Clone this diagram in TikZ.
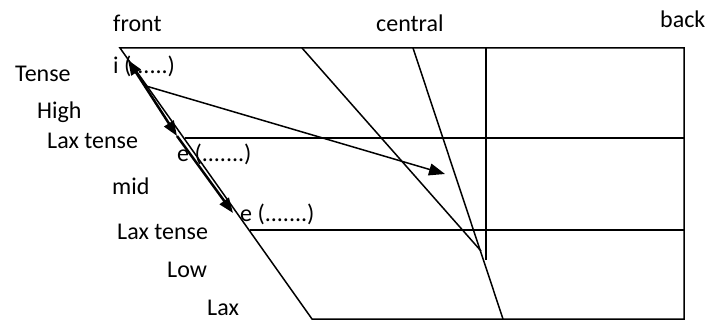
\documentclass[tikz,border=0pt]{standalone}
\usepackage{fontspec}
\setmainfont{Carlito}
\usetikzlibrary{arrows.meta}
\begin{document}
\begin{tikzpicture}[x=1pt,y=-1pt,
  lbl/.style={anchor=base west,inner sep=0pt,font=\fontsize{24}{28}\selectfont},
  thin/.style={line width=1.5pt},
  thickarr/.style={line width=2.5pt},
  tipb/.tip={Triangle[length=15pt,width=11pt]}]
\useasboundingbox (0,0) rectangle (709,320);
% frame
\coordinate (tl) at (120,48);
\coordinate (tr) at (684,48);
\coordinate (br) at (684,319);
\coordinate (bl) at (312,319);
\draw[thin,line join=miter] (bl) -- (tl) -- (tr) -- (br) -- cycle;
\draw[thin] (185,138) -- (684,138);
\draw[thin] (250,230) -- (684,230);
\draw[thin] (486,48) -- (486,260);
\draw[thin] (302,48) -- (481,251);
\draw[thin] (413,48) -- (503,319);
% arrows
\coordinate (a1) at (128,60);
\coordinate (a2) at (177,136);
\coordinate (a3) at (233,213);
\draw[thickarr,tipb-tipb] (a1) -- (a2);
\draw[thickarr,-tipb] (a2) -- (a3);
\coordinate (b1) at (146,86);
\coordinate (b2) at (445,174);
\draw[thin,-{Triangle[length=16pt,width=12pt]}] (b1) -- (b2);
% labels
\node[lbl] (front) at (113,32) {front};
\node[lbl] (central) at (376,32) {central};
\node[lbl] (back) at (660,28) {back};
\node[lbl] (tense) at (15,82) {Tense};
\node[lbl] (high) at (37,119) {High};
\node[lbl] (laxtense1) at (47,149) {Lax tense};
\node[lbl] (ivowel) at (113,74) {i (......)};
\node[lbl] (evowel1) at (177,162) {e (.......)};
\node[lbl] (mid) at (112,195) {mid};
\node[lbl] (evowel2) at (240,222) {e (.......)};
\node[lbl] (laxtense2) at (117,240) {Lax tense};
\node[lbl] (low) at (167,277) {Low};
\node[lbl] (lax) at (207,315) {Lax};
\end{tikzpicture}
\end{document}
